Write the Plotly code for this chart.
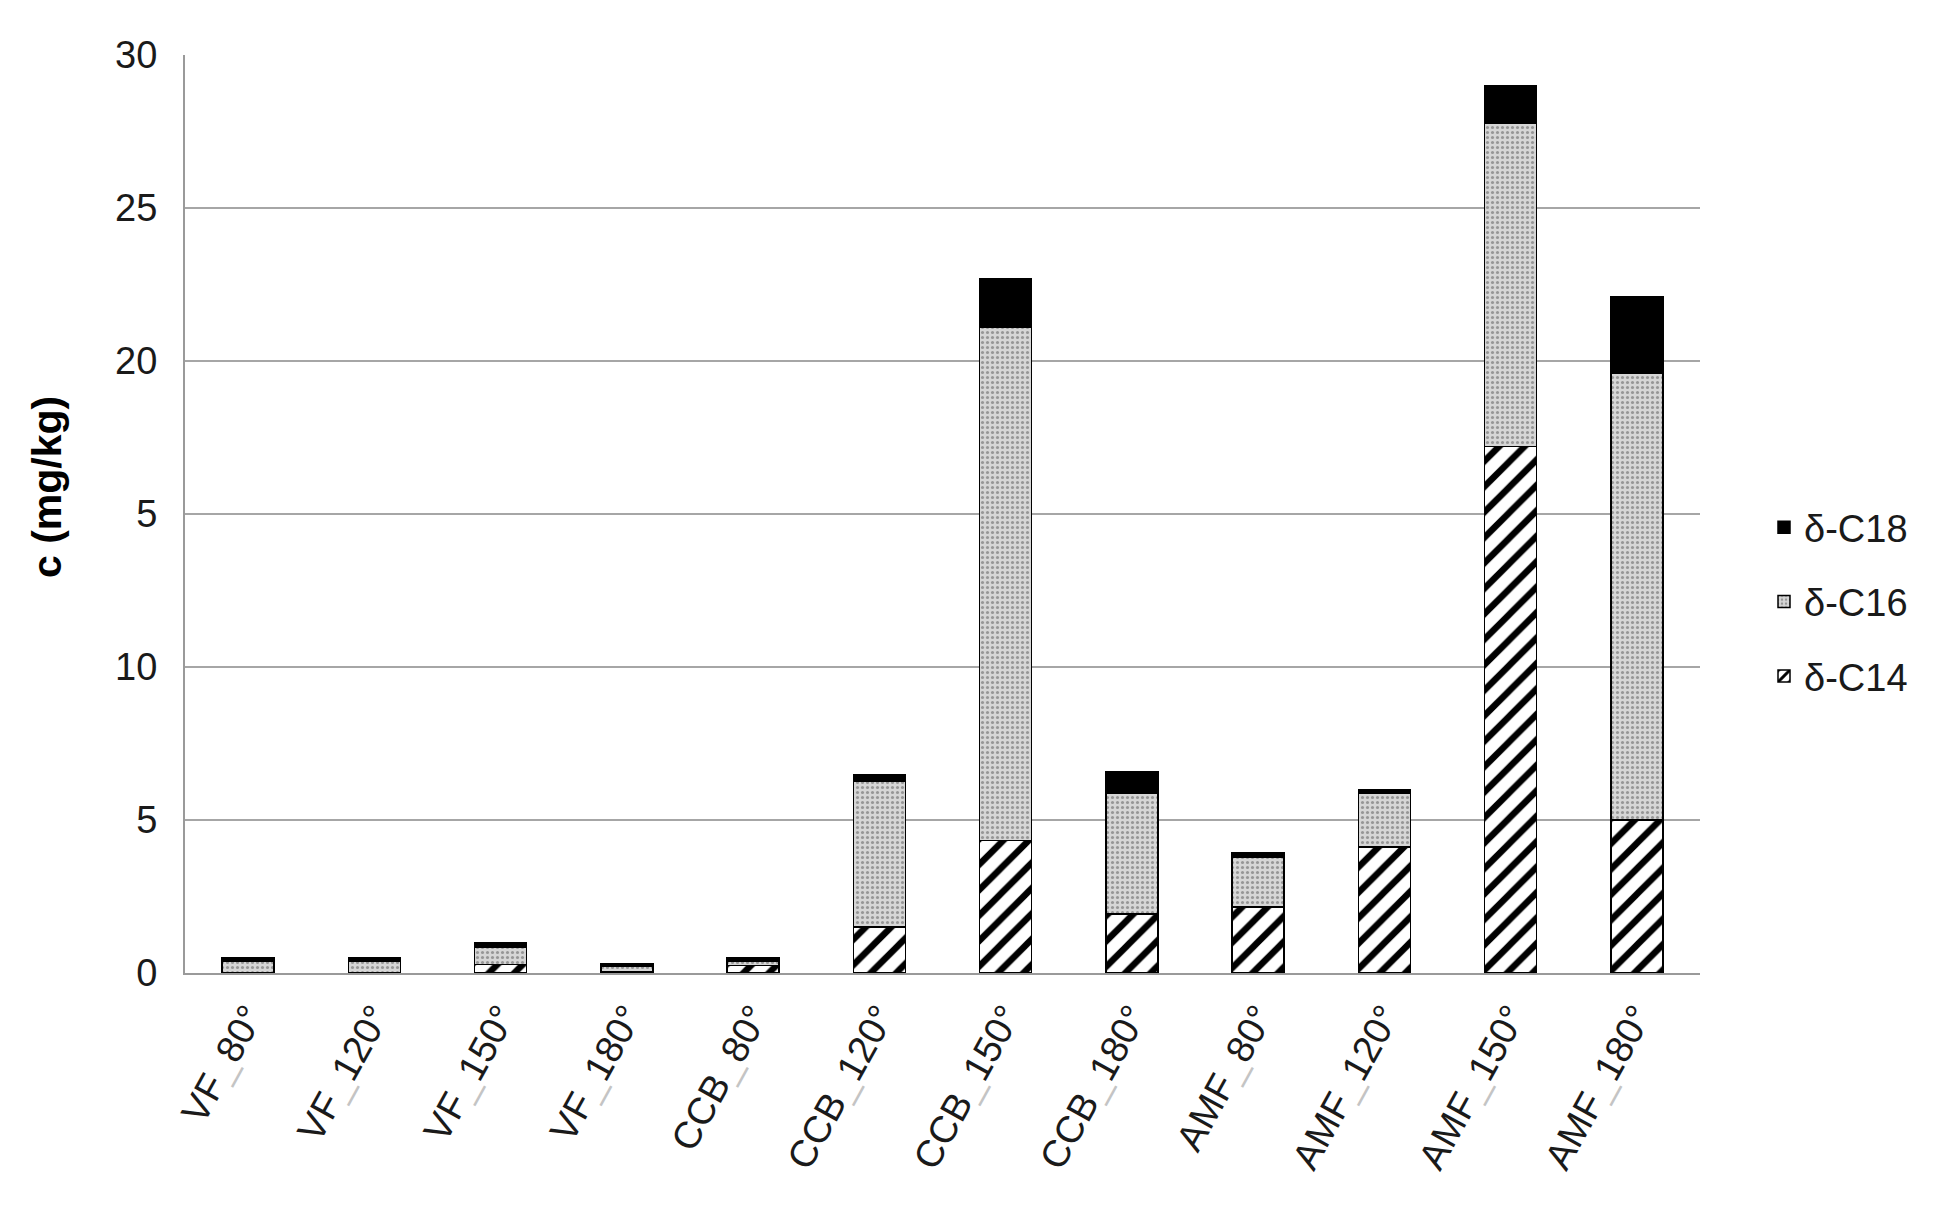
import plotly.graph_objects as go

categories = ["VF_80°", "VF_120°", "VF_150°", "VF_180°", "CCB_80°", "CCB_120°",
              "CCB_150°", "CCB_180°", "AMF_80°", "AMF_120°", "AMF_150°", "AMF_180°"]
c14 = [0.0, 0.0, 0.27, 0.05, 0.25, 1.50, 4.33, 1.93, 2.16, 4.12, 17.20, 5.00]
c16 = [0.38, 0.38, 0.58, 0.17, 0.12, 4.77, 16.77, 3.93, 1.62, 1.74, 10.56, 14.61]
c18 = [0.12, 0.12, 0.14, 0.08, 0.13, 0.20, 1.58, 0.72, 0.14, 0.12, 1.24, 2.50]
series_names = ["δ-C14", "δ-C16", "δ-C18"]
ytick_vals = [0, 5, 10, 15, 20, 25, 30]
ytick_text = ["0", "5", "10", "5", "20", "25", "30"]
y_title = "c (mg/kg)"

def fmt(c):
    a, b = c.split("_")
    return a + "<span style='color:#c4c4c4'>_</span>" + b

xlabels = [fmt(c) for c in categories]

W, H = 1941, 1216
L, R, T, B = 177, 249, 47, 251
plot_w, plot_h = W - L - R, H - T - B

def px_to_paper_x(px):
    return (px - L) / plot_w

def px_to_paper_y(py):
    return (H - B - py) / plot_h

fig = go.Figure()
fig.add_trace(go.Bar(
    x=categories, y=c14, name=series_names[0], legendrank=3, legendgroup="g3",
    marker=dict(color="white", line=dict(color="black", width=1.5),
                pattern=dict(shape="/", fgcolor="#000000", bgcolor="#ffffff",
                             fgopacity=1, fillmode="replace",
                             size=18, solidity=0.36))))
fig.add_trace(go.Bar(
    x=categories, y=c16, name=series_names[1], legendrank=2, legendgroup="g2",
    marker=dict(color="#d4d4d4", line=dict(color="black", width=1.5),
                pattern=dict(shape=".", fgcolor="#555555", bgcolor="#d6d6d6",
                             size=5, solidity=0.3))))
fig.add_trace(go.Bar(
    x=categories, y=c18, name=series_names[2], legendrank=1, legendgroup="g1",
    marker=dict(color="black", line=dict(color="black", width=1.5))))

fig.update_layout(
    width=W, height=H,
    barmode="stack", bargap=0.59,
    plot_bgcolor="white", paper_bgcolor="white",
    margin=dict(l=L, r=R, t=T, b=B, autoexpand=False),
    font=dict(family="Liberation Sans, Arial, sans-serif", color="#1a1a1a"),
    legend=dict(x=px_to_paper_x(1756), xanchor="left",
                y=px_to_paper_y(594), yanchor="middle",
                traceorder="grouped", tracegroupgap=22,
                font=dict(size=38, color="#1a1a1a"),
                itemwidth=30, bgcolor="rgba(0,0,0,0)"),
    showlegend=True,
    annotations=[dict(text="<b>" + y_title + "</b>", textangle=-90,
                      x=px_to_paper_x(39), y=px_to_paper_y(479),
                      xref="paper", yref="paper", showarrow=False,
                      xanchor="center", yanchor="middle",
                      font=dict(size=41, color="#000"))],
)
fig.update_xaxes(
    tickvals=categories, ticktext=xlabels, tickangle=-61,
    tickfont=dict(size=38, color="#1a1a1a"),
    showline=True, linecolor="#9a9a9a", linewidth=2,
    showgrid=False, ticks="", ticklabelstandoff=4,
    automargin=False,
)
fig.update_yaxes(
    range=[0, 30], tickvals=ytick_vals, ticktext=ytick_text,
    tickfont=dict(size=38, color="#1a1a1a"),
    showline=True, linecolor="#9a9a9a", linewidth=2,
    showgrid=True, gridcolor="#a6a6a6", gridwidth=1.5,
    zeroline=False, ticks="", ticklabelstandoff=18,
    automargin=False,
)
fig.write_html("out.html")
